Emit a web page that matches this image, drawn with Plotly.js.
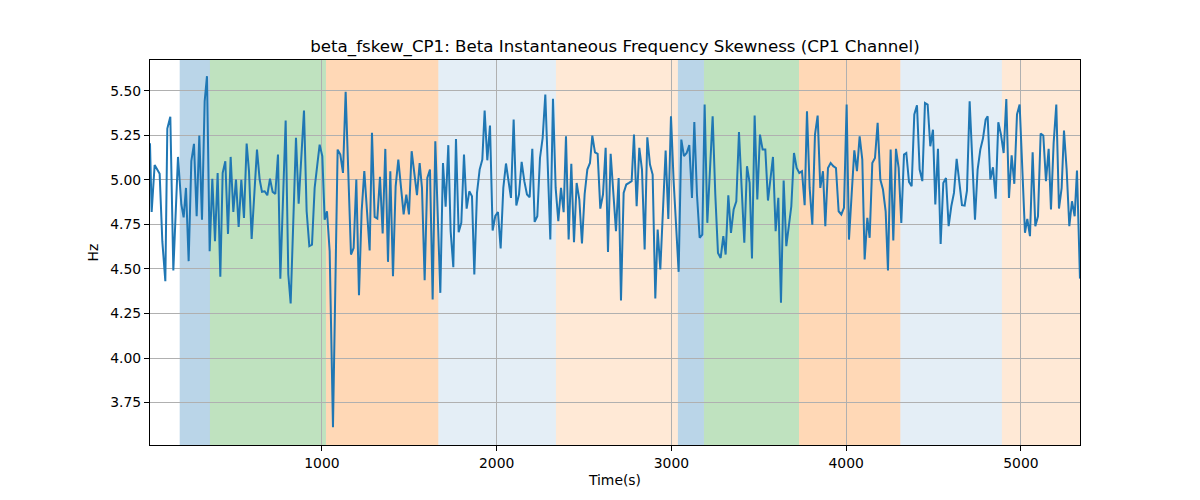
<!DOCTYPE html>
<html>
<head>
<meta charset="utf-8">
<script src="https://cdn.plot.ly/plotly-3.0.1.min.js"></script>
<style>
  body { margin: 0; background: #fff; }
  #chart { width: 1200px; height: 500px; }
</style>
</head>
<body>
<div id="chart"></div>
<script>
// time (s) and beta skewness (Hz)
var timeS = [
    15.9, 25.5, 42.6, 56, 71.2, 86.5, 103.7, 115.1, 132.3, 149.5,
    162.8, 176.2, 195.3, 208.6, 221.9, 237.2, 252.5, 267.7, 283, 298.2,
    313.5, 328.8, 342.1, 357.4, 372.6, 387.9, 403.1, 418.4, 431.8, 447,
    462.3, 477.5, 492.8, 508, 523.3, 538.6, 553.8, 569.1, 582.5, 597.7,
    628.2, 643.5, 656.8, 672.1, 687.4, 702.6, 717.9, 733.1, 748.4, 761.8,
    792.3, 807.5, 820.9, 851.4, 866.7, 897.2, 912.4, 927.7, 943, 958.2,
    973.5, 986.8, 1002.1, 1015.5, 1028.8, 1044.1, 1063.1, 1089.8, 1105.1, 1120.4,
    1135.6, 1166.1, 1181.4, 1196.7, 1211.9, 1227.2, 1242.4, 1273, 1286.3, 1301.6,
    1316.8, 1332.1, 1347.4, 1362.6, 1377.9, 1391.2, 1406.5, 1421.7, 1437, 1452.3,
    1467.5, 1482.8, 1498, 1513.3, 1528.6, 1543.8, 1559.1, 1572.4, 1587.7, 1603,
    1618.2, 1633.5, 1648.7, 1677.4, 1692.6, 1707.9, 1723.1, 1736.5, 1751.7, 1767,
    1782.3, 1797.5, 1812.8, 1828, 1843.3, 1858.6, 1871.9, 1887.2, 1902.4, 1917.7,
    1931, 1946.3, 1961.6, 1976.8, 1992.1, 2007.3, 2022.6, 2037.9, 2053.1, 2068.4,
    2081.7, 2097, 2112.3, 2127.5, 2142.8, 2158, 2173.3, 2188.6, 2203.8, 2217.2,
    2232.4, 2247.7, 2263, 2278.2, 2306.8, 2322.1, 2337.4, 2352.6, 2367.9, 2383.1,
    2396.5, 2411.7, 2427, 2442.3, 2457.5, 2472.8, 2488, 2503.3, 2518.6, 2533.8,
    2547.2, 2562.4, 2577.7, 2592.9, 2608.2, 2623.5, 2636.8, 2652.1, 2667.3, 2682.6,
    2697.9, 2711.2, 2726.5, 2741.7, 2757, 2772.3, 2785.6, 2800.9, 2816.1, 2831.4,
    2846.7, 2861.9, 2877.2, 2892.4, 2907.7, 2921.1, 2936.3, 2951.6, 2966.8, 2982.1,
    2997.3, 3012.6, 3027.9, 3041.2, 3056.5, 3071.7, 3087, 3102.2, 3117.5, 3130.9,
    3146.1, 3161.4, 3176.6, 3190, 3205.3, 3220.5, 3235.8, 3251, 3266.3, 3281.6,
    3296.8, 3310.2, 3325.4, 3340.7, 3356, 3371.2, 3386.5, 3401.7, 3417, 3432.3,
    3447.5, 3460.9, 3476.1, 3491.4, 3506.6, 3521.9, 3537.2, 3552.4, 3567.7, 3581,
    3596.3, 3611.6, 3626.8, 3642.1, 3657.3, 3672.6, 3686, 3701.2, 3716.5, 3731.7,
    3747, 3762.3, 3775.6, 3790.9, 3806.1, 3821.4, 3836.6, 3851.9, 3867.2, 3880.5,
    3895.8, 3911, 3926.3, 3941.5, 3956.8, 3972.1, 3987.3, 4002.6, 4015.9, 4031.2,
    4046.5, 4061.7, 4077, 4092.2, 4105.6, 4120.9, 4134.2, 4149.5, 4164.7, 4180,
    4195.3, 4210.5, 4225.8, 4239.1, 4254.4, 4269.6, 4284.9, 4300.2, 4315.4, 4330.7,
    4344, 4359.3, 4374.6, 4389.8, 4405.1, 4420.3, 4435.6, 4450.9, 4466.1, 4481.4,
    4496.6, 4510, 4525.2, 4540.5, 4555.8, 4571, 4586.3, 4601.5, 4616.8, 4632.1,
    4647.3, 4662.6, 4677.8, 4691.2, 4706.5, 4737, 4752.2, 4767.5, 4782.7, 4798,
    4809.5, 4824.8, 4840, 4855.3, 4870.5, 4885.8, 4901.1, 4916.3, 4931.6, 4946.8,
    4962.1, 4977.4, 4992.6, 5023.1, 5036.5, 5051.7, 5067, 5082.3, 5097.5, 5112.8,
    5128, 5143.3, 5158.6, 5171.9, 5187.2, 5202.4, 5217.7, 5233, 5246.3, 5261.6,
    5276.8, 5292.1, 5307.3, 5320.7, 5337.9
];
var skewHz = [
    5.206, 4.82, 5.084, 5.058, 5.034, 4.656, 4.431, 5.288, 5.355, 4.491,
    4.806, 5.129, 4.862, 4.79, 4.955, 4.544, 5.105, 5.202, 4.796, 5.249,
    4.777, 5.441, 5.582, 4.6, 5.006, 4.656, 5.039, 4.456, 5.039, 5.105,
    4.697, 5.129, 4.82, 5.002, 4.736, 5.0, 4.787, 5.204, 5.049, 4.669,
    5.17, 5.002, 4.933, 4.936, 4.914, 5.007, 4.933, 4.921, 5.142, 4.445,
    5.333, 4.469, 4.306, 5.236, 4.867, 5.389, 4.824, 4.628, 4.637, 4.955,
    5.086, 5.198, 5.133, 4.777, 4.824, 4.6, 3.612, 5.17, 5.142, 5.039,
    5.494, 4.581, 4.618, 5.002, 4.353, 4.824, 5.049, 4.604, 5.264, 4.792,
    4.783, 5.017, 4.699, 5.174, 4.54, 5.049, 4.46, 4.964, 5.114, 4.955,
    4.806, 4.918, 4.806, 5.161, 5.03, 4.914, 5.095, 4.955, 4.437, 5.011,
    5.058, 4.329, 5.217, 4.366, 5.095, 4.849, 5.195, 4.712, 4.51, 5.23,
    4.706, 4.759, 5.142, 4.839, 4.936, 4.908, 4.469, 4.927, 5.058, 5.114,
    5.389, 5.11, 5.305, 4.716, 4.798, 4.82, 4.615, 4.955, 5.092, 4.993,
    4.899, 5.339, 4.856, 4.918, 5.101, 4.993, 4.918, 4.903, 5.174, 4.764,
    4.796, 5.123, 5.236, 5.479, 4.665, 5.456, 4.955, 4.768, 4.955, 4.819,
    5.245, 4.665, 5.09, 4.65, 4.983, 4.89, 4.643, 4.921, 5.058, 5.095,
    5.249, 5.155, 5.146, 4.839, 4.918, 5.18, 4.596, 5.146, 4.918, 4.712,
    5.011, 4.323, 4.927, 4.974, 4.983, 4.993, 5.254, 4.852, 5.18, 5.058,
    4.609, 5.239, 5.086, 5.03, 4.334, 4.721, 4.497, 4.824, 5.165, 4.781,
    5.357, 4.993, 4.749, 4.484, 5.226, 5.133, 5.151, 5.195, 4.899, 5.325,
    4.918, 4.675, 4.693, 5.423, 4.759, 5.049, 5.357, 4.918, 4.59, 4.562,
    4.684, 4.581, 4.914, 4.703, 4.834, 4.88, 5.269, 4.955, 4.647, 5.077,
    4.983, 4.559, 5.361, 4.89, 5.254, 5.17, 5.17, 4.884, 5.002, 5.129,
    4.712, 4.899, 4.31, 4.996, 4.628, 4.768, 4.852, 5.151, 5.067, 5.039,
    5.049, 4.858, 5.385, 4.955, 4.749, 5.254, 5.361, 4.955, 5.049, 4.74,
    5.067, 5.095, 5.077, 5.067, 4.824, 4.806, 4.843, 5.423, 4.665, 4.918,
    5.166, 5.049, 5.245, 5.114, 4.553, 4.787, 4.675, 5.095, 5.123, 5.32,
    5.002, 4.946, 4.824, 4.491, 5.17, 4.66, 5.174, 5.067, 4.759, 5.142,
    5.151, 4.989, 4.964, 5.367, 5.419, 5.058, 4.993, 5.432, 5.423, 5.189,
    5.282, 4.862, 5.174, 4.641, 4.983, 5.011, 4.74, 4.852, 4.927, 5.118,
    4.983, 4.858, 4.856, 4.94, 5.441, 4.777, 5.058, 5.17, 5.232, 5.339,
    5.357, 5.002, 5.071, 4.895, 5.324, 5.254, 5.151, 5.454, 4.899, 5.138,
    4.978, 5.367, 5.423, 4.703, 4.781, 4.684, 5.155, 4.74, 4.796, 5.26,
    5.249, 4.993, 5.174, 4.834, 5.208, 5.423, 4.839, 4.955, 5.277, 5.058,
    4.74, 4.88, 4.796, 5.052, 4.446
];

// shaded segments: start, end (s) and segment kind
var segStart = [186, 359, 1023, 1666, 2339, 3037, 3186, 3730, 4310, 4891];
var segEnd   = [359, 1023, 1666, 2339, 3037, 3186, 3730, 4310, 4891, 5338];
var segKind  = ['blue', 'green', 'orange', 'lightblue', 'lightorange',
                'blue', 'green', 'orange', 'lightblue', 'lightorange'];

var xTicks = [1000, 2000, 3000, 4000, 5000];
var yTicks = [3.75, 4.00, 4.25, 4.50, 4.75, 5.00, 5.25, 5.50];

var kindColor = {
    blue: 'rgba(31,119,180,0.31)',
    green: 'rgba(44,160,44,0.30)',
    orange: 'rgba(255,127,14,0.30)',
    lightblue: 'rgba(31,119,180,0.12)',
    lightorange: 'rgba(255,127,14,0.17)'
};

function make_shapes() {
    var shapes = [];
    for (var i = 0; i < segStart.length; i++) {
        shapes.push({
            type: 'rect',
            xref: 'x', yref: 'paper',
            x0: segStart[i], x1: segEnd[i],
            y0: 0, y1: 1,
            fillcolor: kindColor[segKind[i]],
            line: { width: 0 },
            layer: 'below'
        });
    }
    return shapes;
}

var font = { family: 'DejaVu Sans, sans-serif', size: 13.9, color: '#000' };

var trace = {
    x: timeS,
    y: skewHz,
    type: 'scatter',
    mode: 'lines',
    line: { color: '#1f77b4', width: 2 },
    hoverinfo: 'skip'
};

var layout = {
    width: 1200,
    height: 500,
    margin: { l: 150, r: 120, t: 60, b: 55 },
    paper_bgcolor: '#fff',
    plot_bgcolor: '#fff',
    font: font,
    showlegend: false,
    title: {
        text: 'beta_fskew_CP1: Beta Instantaneous Frequency Skewness (CP1 Channel)',
        font: { family: 'DejaVu Sans, sans-serif', size: 16.67, color: '#000' },
        xref: 'paper', x: 0.5, xanchor: 'center',
        yref: 'container', y: 0.908, yanchor: 'middle'
    },
    xaxis: {
        range: [16, 5338],
        tickvals: xTicks,
        ticktext: xTicks.map(String),
        ticks: 'outside', ticklen: 5, tickwidth: 1, tickcolor: '#000',
        showgrid: true, gridcolor: '#b0b0b0', gridwidth: 1,
        showline: true, linecolor: '#000', linewidth: 1, mirror: true,
        zeroline: false,
        title: { text: 'Time(s)', font: font, standoff: 5 }
    },
    yaxis: {
        range: [3.512, 5.673],
        tickvals: yTicks,
        ticktext: yTicks.map(function (v) { return v.toFixed(2); }),
        ticks: 'outside', ticklen: 5, tickwidth: 1, tickcolor: '#000',
        showgrid: true, gridcolor: '#b0b0b0', gridwidth: 1,
        showline: true, linecolor: '#000', linewidth: 1, mirror: true,
        zeroline: false,
        title: { text: 'Hz', font: font, standoff: 8 }
    },
    shapes: make_shapes()
};

Plotly.newPlot('chart', [trace], layout, { staticPlot: true, displayModeBar: false });
</script>
</body>
</html>
